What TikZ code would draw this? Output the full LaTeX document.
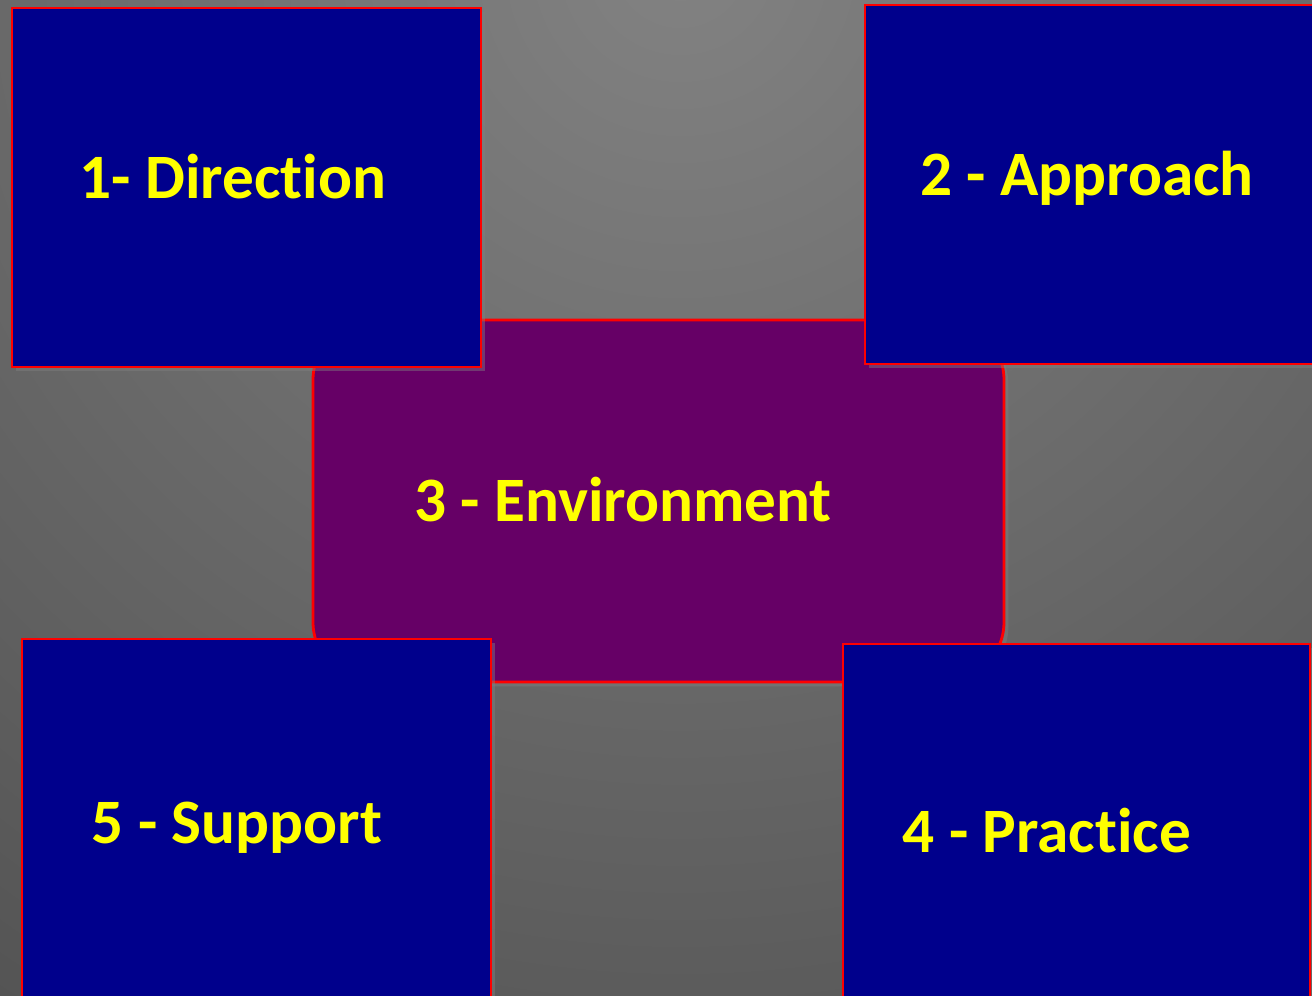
\documentclass[tikz,border=0pt]{standalone}
\usepackage{fontspec}
\setmainfont[Ligatures={NoCommon}]{Carlito}
\usetikzlibrary{shadows}

\definecolor{boxblue}{RGB}{0,0,140}
\definecolor{envpurple}{RGB}{102,0,102}
\definecolor{edgered}{RGB}{255,0,0}
\definecolor{txtyellow}{RGB}{255,255,0}
\definecolor{bglight}{RGB}{130,130,130}
\definecolor{bgdark}{RGB}{56,56,56}

\tikzset{
  panel/.style={draw=edgered, line width=1.6pt, fill=boxblue,
    drop shadow={shadow xshift=2.5pt, shadow yshift=-2.5pt, opacity=0.45}},
  core/.style={panel, fill=envpurple, rounded corners=1.2cm},
  caption/.style={text=txtyellow, font=\fontsize{36}{43}\selectfont\bfseries,
    inner sep=0pt, anchor=base}
}

\begin{document}
\begin{tikzpicture}[x=0.02cm, y=-0.02cm]
  % Fundo cinzento
  \useasboundingbox (0,0) rectangle (1312,995);
  \begin{scope}
    \clip (0,0) rectangle (1312,995);
    \shade[inner color=bglight, outer color=bgdark] (680,-40) circle[radius=40cm];

    % Caixa central
    \draw[core] (313,320) rectangle (1004,682);
    \node[caption] (env) at (623,521) {3 - Environment};

    % Caixas dos cantos
    \draw[panel] (12,8) rectangle (481,367);
    \node[caption] (dir) at (233,198) {1- Direction};

    \draw[panel] (865,5) rectangle (1340,364);
    \node[caption] (appr) at (1087,195) {2 - Approach};

    \draw[panel] (22,639) rectangle (491,1030);
    \node[caption] (supp) at (237,843) {5 - Support};

    \draw[panel] (843,644) rectangle (1310,1030);
    \node[caption] (prac) at (1047,852) {4 - Practice};
  \end{scope}
\end{tikzpicture}
\end{document}
